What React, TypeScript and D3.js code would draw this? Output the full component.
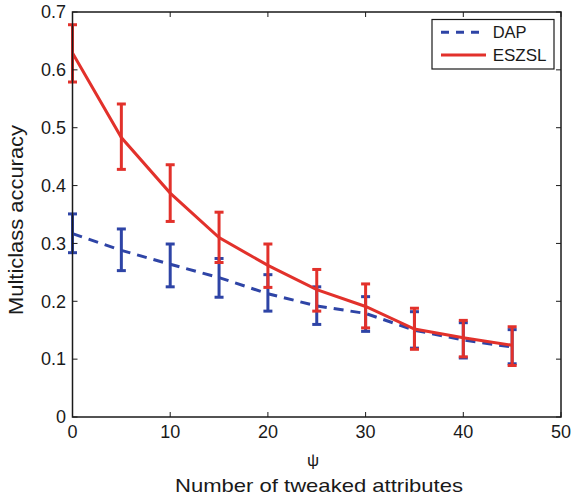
import React from "react";
import * as d3 from "d3";

const xs = [0, 5, 10, 15, 20, 25, 30, 35, 40, 45];
const eszslMean = [0.629, 0.483, 0.387, 0.31, 0.262, 0.22, 0.191, 0.152, 0.137, 0.124];
const eszslLo = [0.579, 0.428, 0.338, 0.267, 0.224, 0.183, 0.154, 0.117, 0.104, 0.089];
const eszslHi = [0.678, 0.541, 0.436, 0.354, 0.299, 0.255, 0.23, 0.188, 0.167, 0.156];
const dapMean = [0.317, 0.288, 0.264, 0.241, 0.213, 0.192, 0.179, 0.15, 0.133, 0.121];
const dapLo = [0.284, 0.253, 0.225, 0.207, 0.183, 0.16, 0.148, 0.119, 0.102, 0.092];
const dapHi = [0.351, 0.325, 0.299, 0.274, 0.246, 0.225, 0.208, 0.182, 0.163, 0.151];
const xTicks = [0, 10, 20, 30, 40, 50];
const yTicks = [0, 0.1, 0.2, 0.3, 0.4, 0.5, 0.6, 0.7];

const RED = "#e2312b";
const BLUE = "#2e44a6";
const FONT = "'Liberation Sans', Arial, Helvetica, sans-serif";

export default function App() {
  const L = 72.5, R = 561, T = 12, B = 417;
  const x = d3.scaleLinear().domain([0, 50]).range([L, R]);
  const y = d3.scaleLinear().domain([0, 0.7]).range([B, T]);
  const line = d3.line<number>().x((_, i) => x(xs[i])).y((d) => y(d));

  const errBars = (lo: number[], hi: number[], color: string, key: string) =>
    xs.map((xv, i) => {
      const cx = x(xv);
      const cw = 4.5;
      return (
        <g key={key + i} stroke={color} strokeWidth={3} fill="none">
          <line x1={cx} x2={cx} y1={y(lo[i])} y2={y(hi[i])} />
          <line x1={cx - cw} x2={cx + cw} y1={y(lo[i])} y2={y(lo[i])} />
          <line x1={cx - cw} x2={cx + cw} y1={y(hi[i])} y2={y(hi[i])} />
        </g>
      );
    });

  return (
    <svg width={573} height={496} style={{ position: "absolute", left: 0, top: 0 }} fontFamily={FONT}>
      <rect x={0} y={0} width={573} height={496} fill="white" />
      {/* data */}
      <path d={line(dapMean) || ""} fill="none" stroke={BLUE} strokeWidth={3} strokeDasharray="10,7" />
      {errBars(dapLo, dapHi, BLUE, "d")}
      <path d={line(eszslMean) || ""} fill="none" stroke={RED} strokeWidth={3} />
      {errBars(eszslLo, eszslHi, RED, "e")}
      {/* axes box */}
      <rect x={L} y={T} width={R - L} height={B - T} fill="none" stroke="#1a1a1a" strokeWidth={1.5} />
      {xTicks.map((t) => (
        <g key={"xt" + t}>
          <line x1={x(t)} x2={x(t)} y1={B} y2={B - 5} stroke="#1a1a1a" strokeWidth={1} />
          <line x1={x(t)} x2={x(t)} y1={T} y2={T + 5} stroke="#1a1a1a" strokeWidth={1} />
          <text x={x(t)} y={438} fontSize={18} textAnchor="middle" fill="#1a1a1a">{t}</text>
        </g>
      ))}
      {yTicks.map((t) => (
        <g key={"yt" + t}>
          <line x1={L} x2={L + 5} y1={y(t)} y2={y(t)} stroke="#1a1a1a" strokeWidth={1} />
          <line x1={R} x2={R - 5} y1={y(t)} y2={y(t)} stroke="#1a1a1a" strokeWidth={1} />
          <text x={66} y={y(t) + 6.3} fontSize={18} textAnchor="end" fill="#1a1a1a">
            {t === 0 ? "0" : d3.format(".1f")(t)}
          </text>
        </g>
      ))}
      {/* labels */}
      <text x={313} y={466} fontSize={17} textAnchor="middle" fill="#1a1a1a">ψ</text>
      <text x={319} y={492} fontSize={19} textAnchor="middle" fill="#1a1a1a" textLength={288} lengthAdjust="spacingAndGlyphs">
        Number of tweaked attributes
      </text>
      <text transform="translate(22.7,220) rotate(-90)" fontSize={20} textAnchor="middle" fill="#1a1a1a" textLength={190} lengthAdjust="spacingAndGlyphs">
        Multiclass accuracy
      </text>
      {/* legend */}
      <rect x={432} y={19.5} width={122} height={49.5} fill="white" stroke="#1a1a1a" strokeWidth={1.2} />
      <line x1={441} x2={486} y1={32.3} y2={32.3} stroke={BLUE} strokeWidth={3} strokeDasharray="8,7" />
      <line x1={441} x2={486} y1={55} y2={55} stroke={RED} strokeWidth={3} />
      <text x={492.7} y={38} fontSize={16.5} fill="#1a1a1a">DAP</text>
      <text x={492.7} y={61} fontSize={17} fill="#1a1a1a">ESZSL</text>
    </svg>
  );
}
